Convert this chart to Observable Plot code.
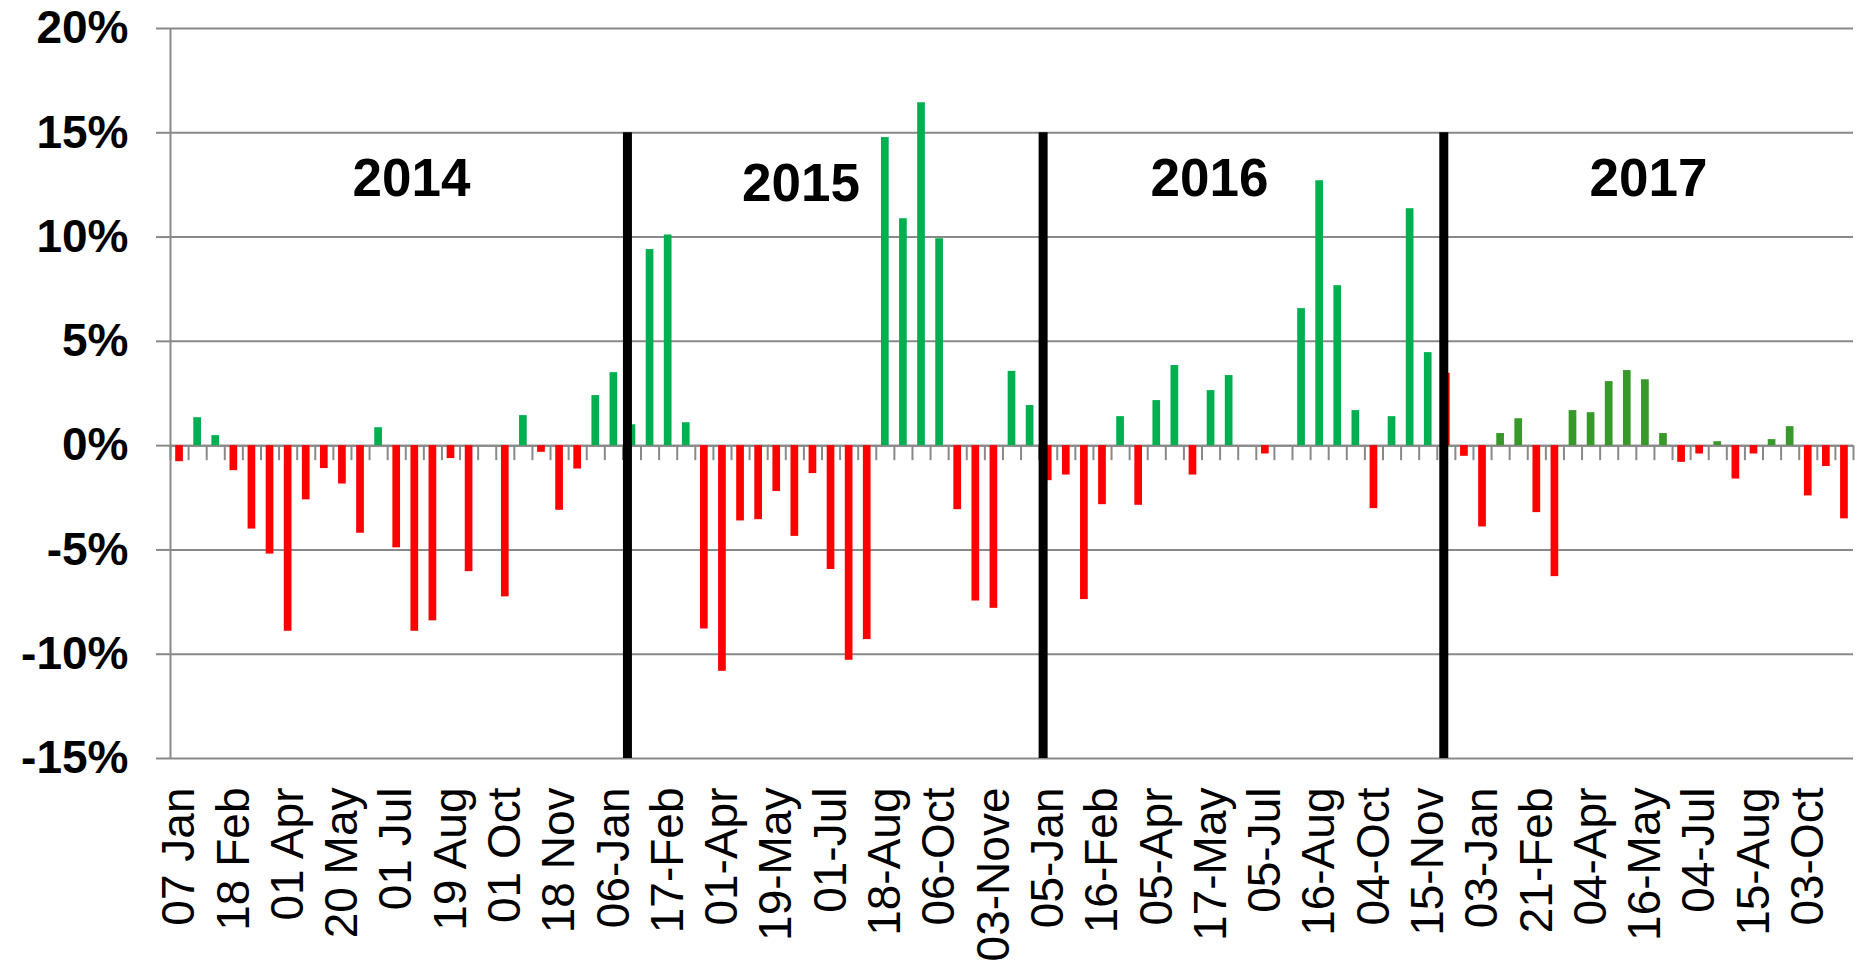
<!DOCTYPE html>
<html>
<head>
<meta charset="utf-8">
<script src="https://cdn.jsdelivr.net/npm/d3@7"></script>
<script src="https://cdn.jsdelivr.net/npm/@observablehq/plot@0.6"></script>
<style>
  html, body { margin: 0; padding: 0; background: #ffffff; }
  #chart { width: 1863px; height: 967px; }
</style>
</head>
<body>
<div id="chart"></div>
<script>
// Period change (%) per category, left to right (93 categories, one label every 3rd)
const values = [
  -0.77, 1.34, 0.48, -1.2, -4.0, -5.2, -8.9, -2.6, -1.1, -1.84,
  -4.2, 0.86, -4.9, -8.9, -8.4, -0.62, -6.04, null, -7.25, 1.44,
  -0.32, -3.1, -1.12, 2.4, 3.5, 1.0, 9.4, 10.1, 1.1, -8.79,
  -10.82, -3.61, -3.55, -2.2, -4.35, -1.34, -5.94, -10.29, -9.3, 14.77,
  10.88, 16.44, 9.92, -3.07, -7.45, -7.8, 3.56, 1.92, -1.68, -1.41,
  -7.38, -2.83, 1.39, -2.86, 2.16, 3.84, -1.41, 2.64, 3.36, null,
  -0.4, null, 6.57, 12.7, 7.67, 1.68, -3.02, 1.39, 11.36, 4.46,
  3.47, -0.51, -3.9, 0.58, 1.29, -3.21, -6.28, 1.68, 1.58, 3.07,
  3.6, 3.16, 0.58, -0.8, -0.4, 0.19, -1.6, -0.4, 0.29, 0.91,
  -2.41, -1.0, -3.51
];

// Category labels (every third category)
const tickLabels = [
  "07 Jan", "18 Feb", "01 Apr", "20 May", "01 Jul", "19 Aug", "01 Oct", "18 Nov",
  "06-Jan", "17-Feb", "01-Apr", "19-May", "01-Jul", "18-Aug", "06-Oct", "03-Nove",
  "05-Jan", "16-Feb", "05-Apr", "17-May", "05-Jul", "16-Aug", "04-Oct", "15-Nov",
  "03-Jan", "21-Feb", "04-Apr", "16-May", "04-Jul", "15-Aug", "03-Oct"
];
const labelEvery = 3;

// Y axis ticks (%)
const yTicks = [-15, -10, -5, 0, 5, 10, 15, 20];

// Year annotations and separators (in category units)
const years = ["2014", "2015", "2016", "2017"];
const yearX = [13.32, 34.84, 57.41, 81.67];
const yearY = [12.78, 12.53, 12.78, 12.78];
const dividerX = [25.25, 48.22, 70.36];

// Series grouping: first bar of the 2017 series and bars drawn red regardless of sign
const series2017Start = 71;
const redOverride = [70];

const GREEN = "#00B050";
const DARK_GREEN = "#37992A";
const RED = "#FF0000";
const GRAY = "#898989";

const bars = values.map((v, i) => ({i, v})).filter(d => d.v != null);
const barFill = d => (d.v < 0 || redOverride.includes(d.i)) ? RED : (d.i >= series2017Start ? DARK_GREEN : GREEN);
const boundaries = d3.range(0, values.length + 1);
const labelData = tickLabels.map((t, k) => ({t, x: k * labelEvery + 0.5}));
const yearData = years.map((t, k) => ({t, x: yearX[k], y: yearY[k]}));

const chart = Plot.plot({
  width: 1863,
  height: 967,
  marginLeft: 170,
  marginRight: 10,
  marginTop: 28,
  marginBottom: 209,
  style: {fontFamily: "Liberation Sans, Arial, sans-serif", background: "#ffffff", color: "black", overflow: "visible"},
  x: {domain: [0, values.length], axis: null},
  y: {domain: [-15, 20]},
  marks: [
    Plot.gridY(yTicks, {stroke: GRAY, strokeOpacity: 1, strokeWidth: 2}),
    Plot.ruleY([0], {stroke: GRAY, strokeWidth: 2}),
    Plot.rect(bars, {
      x1: d => d.i,
      x2: d => d.i + 1,
      y1: 0,
      y2: d => d.v,
      insetLeft: 5.2,
      insetRight: 5.2,
      fill: barFill
    }),
    Plot.ruleX(boundaries, {x: d => d, y1: 0, y2: 0, insetTop: 0, insetBottom: -15, stroke: GRAY, strokeWidth: 2}),
    Plot.ruleX([0], {y1: -15, y2: 20, stroke: GRAY, strokeWidth: 2}),
    Plot.ruleX(dividerX, {x: d => d, y1: 15, y2: -15, stroke: "black", strokeWidth: 9}),
    Plot.axisY({
      ticks: yTicks,
      tickFormat: d => d + "%",
      tickSize: 14,
      tickPadding: 28,
      fontSize: 46,
      fontWeight: "bold",
      stroke: GRAY,
      strokeWidth: 2,
      fill: "black",
      label: null
    }),
    Plot.text(labelData, {
      x: "x",
      y: -15,
      text: "t",
      rotate: -90,
      textAnchor: "end",
      lineAnchor: "middle",
      dy: 29,
      fontSize: 46,
      fill: "black"
    }),
    Plot.text(yearData, {
      x: "x",
      y: "y",
      text: "t",
      fontSize: 53,
      fontWeight: "bold",
      lineAnchor: "middle",
      fill: "black"
    })
  ]
});

document.getElementById("chart").appendChild(chart);
</script>
</body>
</html>
